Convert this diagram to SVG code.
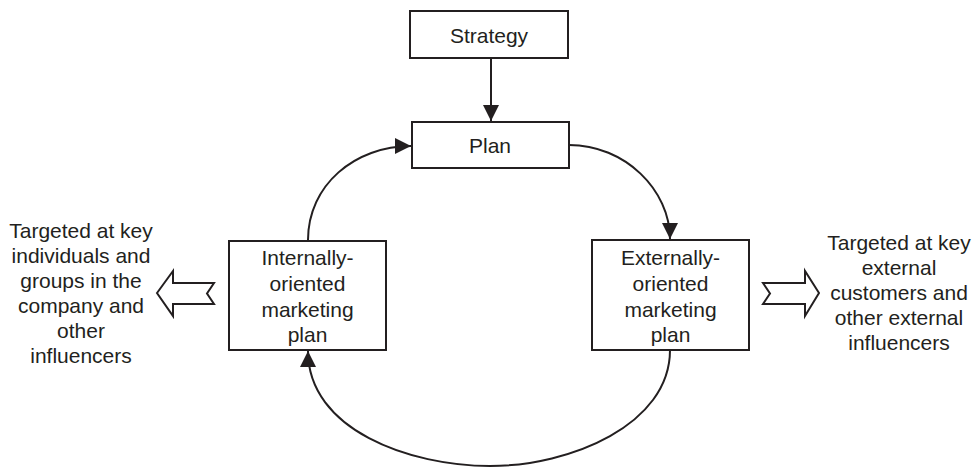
<svg xmlns="http://www.w3.org/2000/svg" width="978" height="467" viewBox="0 0 978 467">
<style>
.box{fill:#fff;stroke:#231f20;stroke-width:2}
.t{font-family:"Liberation Sans",Arial,sans-serif;font-size:21px;fill:#231f20;text-anchor:middle}
.c{fill:none;stroke:#231f20;stroke-width:2}
.blk{fill:#fff;stroke:#231f20;stroke-width:2;stroke-linejoin:miter}
</style>
<defs>
<marker id="ah" viewBox="0 0 10 10" refX="10" refY="5" markerWidth="8" markerHeight="8" markerUnits="strokeWidth" orient="auto">
<path d="M0,0 L10,5 L0,10 z" fill="#231f20"/>
</marker>
</defs>
<g id="connectors">
<line class="c" x1="491" y1="58" x2="491" y2="121" marker-end="url(#ah)"/>
<path class="c" d="M308,240 C308,185 355,146 411,146" marker-end="url(#ah)"/>
<path class="c" d="M569,145 C625,145 670,190 670,239" marker-end="url(#ah)"/>
<path class="c" d="M670,350 C670,425 570,466 490,466 C410,466 308,430 308,351" marker-end="url(#ah)"/>
</g>
<g id="strategy">
<rect class="box" x="410" y="11" width="158" height="47"/>
<text class="t" x="489" y="43">Strategy</text>
</g>
<g id="plan">
<rect class="box" x="412" y="122" width="157" height="46"/>
<text class="t" x="490" y="152.5">Plan</text>
</g>
<g id="internal">
<rect class="box" x="229" y="241" width="157" height="109"/>
<text class="t" x="307.5" y="265">Internally-</text>
<text class="t" x="307.5" y="291">oriented</text>
<text class="t" x="307.5" y="317">marketing</text>
<text class="t" x="307.5" y="342">plan</text>
</g>
<g id="external">
<rect class="box" x="592" y="240" width="157" height="110"/>
<text class="t" x="670.5" y="265">Externally-</text>
<text class="t" x="670.5" y="291">oriented</text>
<text class="t" x="670.5" y="317">marketing</text>
<text class="t" x="670.5" y="342">plan</text>
</g>
<g id="left-arrow">
<path class="blk" d="M157,293 L173,271 L173,283 L214,283 L207,293.5 L214,304 L173,304 L173,316 Z"/>
</g>
<g id="right-arrow">
<path class="blk" d="M819,293 L805,271 L805,283 L763,283 L770,293.5 L763,304 L805,304 L805,316 Z"/>
</g>
<g id="left-text">
<text class="t" x="81" y="238">Targeted at key</text>
<text class="t" x="81" y="263">individuals and</text>
<text class="t" x="81" y="288">groups in the</text>
<text class="t" x="81" y="313">company and</text>
<text class="t" x="81" y="338">other</text>
<text class="t" x="81" y="363">influencers</text>
</g>
<g id="right-text">
<text class="t" x="899" y="250">Targeted at key</text>
<text class="t" x="899" y="275">external</text>
<text class="t" x="899" y="300">customers and</text>
<text class="t" x="899" y="325">other external</text>
<text class="t" x="899" y="350">influencers</text>
</g>
</svg>
